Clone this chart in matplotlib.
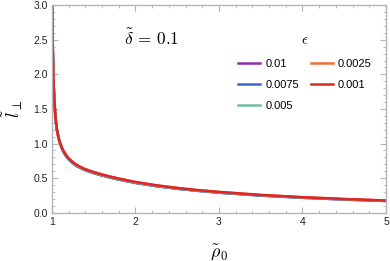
import matplotlib
matplotlib.use("Agg")
import matplotlib.pyplot as plt
from matplotlib.ticker import MultipleLocator, FormatStrFormatter

plt.rcParams['mathtext.fontset'] = 'cm'
plt.rcParams['font.family'] = ['Liberation Sans', 'DejaVu Sans']

rho0 = [1.003, 1.006, 1.01, 1.015, 1.02, 1.03, 1.04, 1.05, 1.06, 1.08, 1.10, 1.13,
        1.17, 1.20, 1.25, 1.30, 1.35, 1.40, 1.50, 1.60, 1.70, 1.80, 2.00, 2.25,
        2.50, 2.75, 3.00, 3.50, 4.00, 4.50, 5.00]
l_001 = [3.28, 2.78, 2.33, 2.03, 1.83, 1.58, 1.40, 1.275, 1.185, 1.065, 0.985, 0.895,
         0.815, 0.77, 0.715, 0.672, 0.641, 0.613, 0.572, 0.537, 0.507, 0.479, 0.431, 0.384,
         0.347, 0.316, 0.290, 0.248, 0.216, 0.191, 0.170]
l_00075 = [3.28, 2.78, 2.33, 2.03, 1.83, 1.58, 1.40, 1.275, 1.185, 1.065, 0.985, 0.895,
           0.815, 0.77, 0.715, 0.672, 0.641, 0.613, 0.572, 0.537, 0.507, 0.479, 0.431, 0.384,
           0.347, 0.316, 0.290, 0.248, 0.216, 0.191, 0.170]
l_0005 = [3.29, 2.79, 2.34, 2.04, 1.84, 1.59, 1.41, 1.283, 1.192, 1.072, 0.991, 0.901,
          0.820, 0.775, 0.72, 0.677, 0.646, 0.618, 0.577, 0.542, 0.511, 0.483, 0.435, 0.388,
          0.351, 0.319, 0.293, 0.251, 0.219, 0.194, 0.172]
l_00025 = [3.30, 2.80, 2.35, 2.05, 1.85, 1.60, 1.42, 1.29, 1.20, 1.08, 1.00, 0.91,
           0.83, 0.785, 0.73, 0.687, 0.656, 0.628, 0.587, 0.552, 0.521, 0.493, 0.444, 0.396,
           0.358, 0.326, 0.300, 0.257, 0.224, 0.198, 0.176]
l_0001 = [3.30, 2.80, 2.35, 2.05, 1.85, 1.60, 1.42, 1.29, 1.20, 1.08, 1.00, 0.91,
          0.83, 0.785, 0.73, 0.687, 0.656, 0.628, 0.587, 0.552, 0.521, 0.493, 0.444, 0.396,
          0.358, 0.326, 0.300, 0.257, 0.224, 0.198, 0.176]

series = [("0.01", l_001, '#8E2DA8'),
          ("0.0075", l_00075, '#3B66D2'),
          ("0.005", l_0005, '#6DBFA3'),
          ("0.0025", l_00025, '#F26B35'),
          ("0.001", l_0001, '#DD2626')]

fig = plt.figure(figsize=(3.9, 2.61), dpi=100)
ax = fig.add_axes([0.1333, 0.185, 0.8564, 0.795])

for lab, ys, col in series:
    ax.plot(rho0, ys, color=col, lw=1.8, label=lab)

ax.set_xlim(1, 5)
ax.set_ylim(0, 3.0)
ax.xaxis.set_major_locator(MultipleLocator(1))
ax.xaxis.set_minor_locator(MultipleLocator(0.2))
ax.yaxis.set_major_locator(MultipleLocator(0.5))
ax.yaxis.set_minor_locator(MultipleLocator(0.1))
ax.yaxis.set_major_formatter(FormatStrFormatter('%.1f'))

frame_col = '#b4b4b4'
for s in ax.spines.values():
    s.set_color(frame_col)
    s.set_linewidth(1.0)
ax.tick_params(which='both', direction='in', top=True, right=True,
               color=frame_col, labelsize=7.5, labelcolor='#222222', pad=3)
ax.tick_params(which='major', length=4, width=0.8)
ax.tick_params(which='minor', length=2.2, width=0.6)

ax.set_xlabel(r'$\tilde{\rho}_0$', fontsize=13, labelpad=11)
ax.set_ylabel(r'$\tilde{l}_{\perp}$', fontsize=13, labelpad=6)

ax.text(0.215, 0.84, r'$\tilde{\delta}\,=\,0.1$', fontsize=12.5, va='center',
        ha='left', transform=ax.transAxes)

leg = ax.legend(title=r'$\epsilon$', ncol=2, loc='upper left',
                bbox_to_anchor=(0.527, 0.912), frameon=False, fontsize=8,
                title_fontsize=11, handlelength=2.0, handletextpad=0.45,
                columnspacing=1.05, labelspacing=1.0)

fig.savefig('out.png', dpi=100)
